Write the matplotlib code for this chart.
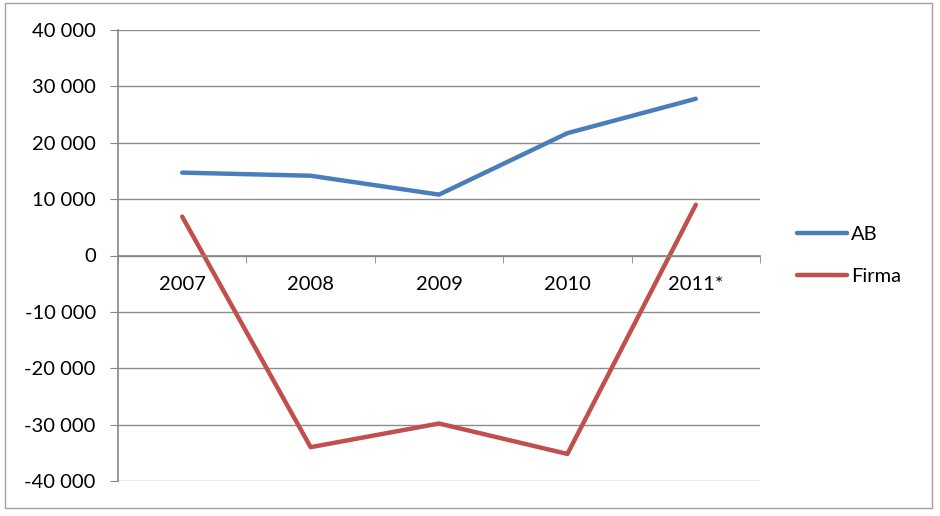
import matplotlib
matplotlib.use("Agg")
import matplotlib.pyplot as plt
from matplotlib.ticker import FuncFormatter, FixedLocator
from matplotlib.patches import Rectangle

years = ["2007", "2008", "2009", "2010", "2011*"]
ab = [14700, 14150, 10800, 21700, 27800]
firma = [6900, -34000, -29800, -35200, 9000]

plt.rcParams['font.family'] = ['Lato', 'DejaVu Sans']
plt.rcParams['font.size'] = 14.5

fig = plt.figure(figsize=(9.4, 5.16), dpi=100)
ax = fig.add_axes([118 / 940, 1 - 481 / 516, (760 - 118) / 940, (481 - 30) / 516])

x = list(range(len(years)))
ax.plot(x, ab, color='#4a7ebb', lw=3.2, label='AB', solid_capstyle='round')
ax.plot(x, firma, color='#c0504d', lw=3.2, label='Firma', solid_capstyle='round')

ax.set_xlim(-0.5, len(years) - 0.5)
ax.set_ylim(-40000, 40000)
ax.set_yticks(range(-40000, 40001, 10000))
ax.yaxis.set_major_formatter(FuncFormatter(lambda v, p: f"{int(v):,}".replace(",", " ")))
ax.grid(axis='y', color='#8c8c8c', lw=1)
ax.set_axisbelow(True)

for s in ['top', 'right']:
    ax.spines[s].set_visible(False)
ax.spines['left'].set_color('#868686')
ax.spines['bottom'].set_position(('data', 0))
ax.spines['bottom'].set_color('#868686')
ax.spines['left'].set_linewidth(1.2)
ax.spines['bottom'].set_linewidth(1.2)

ax.set_xticks(x)
ax.set_xticklabels(years)
ax.xaxis.set_minor_locator(FixedLocator([i - 0.5 for i in range(len(years) + 1)]))
ax.tick_params(axis='x', which='major', length=0, pad=15, colors='black')
ax.tick_params(axis='x', which='minor', length=5, color='#868686', direction='out')
ax.tick_params(axis='y', length=6, color='#868686', pad=10)

fig.legend(loc='center left', bbox_to_anchor=(797 / 940, 1 - 255.5 / 516),
           frameon=False, borderpad=0, borderaxespad=0, handlelength=2.5,
           handletextpad=0.2, labelspacing=1.25)

fig.patches.append(Rectangle((5 / 940, 8 / 516), 927 / 940, 505 / 516,
                             transform=fig.transFigure, fill=False,
                             edgecolor='#a0a0a0', lw=1))

fig.savefig("out.png", dpi=100)
